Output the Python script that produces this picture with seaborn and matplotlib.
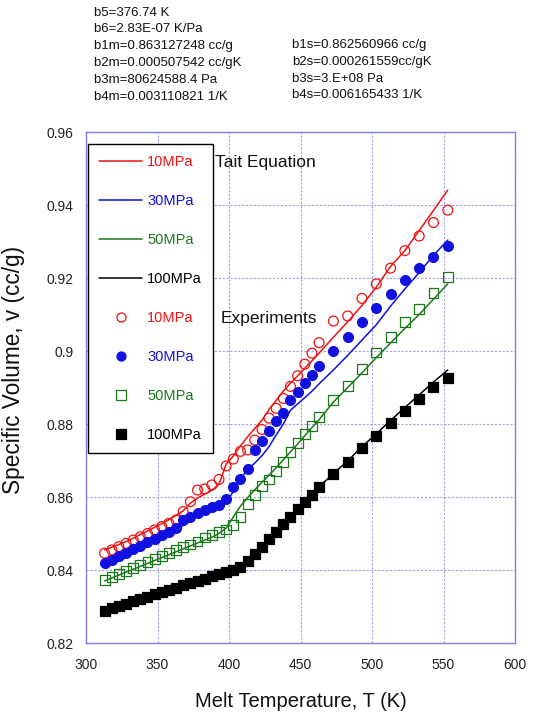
import numpy as np
import pandas as pd
import seaborn as sns
import matplotlib.pyplot as plt
from matplotlib.lines import Line2D

sns.set_style('white')
plt.rcParams['font.family'] = ['Liberation Sans', 'DejaVu Sans']

# experimental / Tait temperatures (K)
T = [313, 318, 323, 328, 333, 338, 343, 348, 353, 358, 363, 368, 373, 378, 383,
     388, 393, 398, 403, 408, 413, 418, 423, 428, 433, 438, 443, 448, 453, 458,
     463, 473, 483, 493, 503, 513, 523, 533, 543, 553]

# Tait equation curves (cc/g)
tait_10 = [.8455, .8462, .8470, .8478, .8487, .8497, .8507, .8517, .8527, .8538,
           .8550, .8562, .8583, .8597, .8608, .8618, .8635, .8690, .8712, .8740,
           .8765, .8788, .8810, .8840, .8865, .8890, .8912, .8932, .8953, .8973,
           .8994, .9038, .9080, .9125, .9175, .9232, .9275, .9330, .9385, .9441]
tait_30 = [.8405, .8415, .8425, .8435, .8445, .8455, .8465, .8475, .8487, .8498,
           .8510, .8522, .8535, .8547, .8557, .8566, .8574, .8585, .8615, .8650,
           .8675, .8693, .8713, .8738, .8770, .8800, .8838, .8855, .8872, .8890,
           .8910, .8948, .8988, .9030, .9072, .9123, .9170, .9215, .9262, .9304]
tait_50 = [.8370, .8378, .8386, .8394, .8402, .8410, .8418, .8426, .8434, .8442,
           .8450, .8458, .8466, .8474, .8482, .8490, .8500, .8515, .8545, .8575,
           .8598, .8620, .8640, .8660, .8680, .8702, .8724, .8745, .8768, .8790,
           .8812, .8860, .8900, .8940, .8982, .9022, .9062, .9100, .9142, .9184]
tait_100 = [.8289, .8295, .8302, .8308, .8314, .8321, .8327, .8333, .8340, .8346,
            .8352, .8358, .8364, .8371, .8377, .8383, .8389, .8395, .8402, .8412,
            .8428, .8447, .8466, .8486, .8506, .8527, .8547, .8567, .8588, .8607,
            .8628, .8664, .8699, .8738, .8773, .8810, .8845, .8880, .8915, .8948]

# experiments (cc/g)
exp_10 = [.8446, .8455, .8464, .8473, .8482, .8491, .8500, .8510, .8519, .8528,
          .8537, .8560, .8587, .8619, .8622, .8633, .8648, .8685, .8704, .8725,
          .8729, .8756, .8785, .8816, .8843, .8870, .8903, .8932, .8964, .8994,
          .9023, .9082, .9096, .9144, .9184, .9227, .9275, .9315, .9352, .9386]
exp_30 = [.8418, .8427, .8437, .8447, .8457, .8466, .8476, .8486, .8495, .8505,
          .8515, .8538, .8545, .8555, .8564, .8573, .8578, .8595, .8628, .8650,
          .8676, .8728, .8753, .8782, .8809, .8831, .8866, .8888, .8913, .8934,
          .8960, .9000, .9038, .9079, .9117, .9156, .9195, .9227, .9257, .9288]
exp_50 = [.8373, .8381, .8389, .8397, .8405, .8413, .8421, .8430, .8438, .8446,
          .8454, .8462, .8470, .8478, .8489, .8497, .8503, .8511, .8523, .8546,
          .8580, .8605, .8630, .8648, .8672, .8697, .8724, .8747, .8772, .8795,
          .8820, .8866, .8904, .8950, .8996, .9038, .9080, .9115, .9160, .9202]
exp_100 = [.8289, .8295, .8302, .8308, .8314, .8321, .8327, .8333, .8340, .8346,
           .8352, .8358, .8364, .8371, .8376, .8383, .8389, .8395, .8400, .8409,
           .8425, .8445, .8464, .8485, .8505, .8526, .8546, .8566, .8587, .8605,
           .8627, .8662, .8696, .8734, .8768, .8804, .8836, .8868, .8901, .8927]

labels = ['10MPa', '30MPa', '50MPa', '100MPa']
colors = ['#ee1111', '#1010e0', '#1a7a1a', 'black']
markers = ['o', 'o', 's', 's']
filled = [False, True, False, True]

params_left = ['b5=376.74 K', 'b6=2.83E-07 K/Pa', 'b1m=0.863127248 cc/g',
               'b2m=0.000507542 cc/gK', 'b3m=80624588.4 Pa', 'b4m=0.003110821 1/K']
params_right = ['b1s=0.862560966 cc/g', 'b2s=0.000261559cc/gK',
                'b3s=3.E+08 Pa', 'b4s=0.006165433 1/K']

fig = plt.figure(figsize=(5.35, 7.2), dpi=100)
ax = fig.add_axes([86 / 535, 1 - 643 / 720, 429 / 535, 511 / 720])

tait = [tait_10, tait_30, tait_50, tait_100]
exps = [exp_10, exp_30, exp_50, exp_100]
for i in range(4):
    df = pd.DataFrame({'T': T, 'v': tait[i]})
    sns.lineplot(data=df, x='T', y='v', color=colors[i], lw=1.1, ax=ax, legend=False)
for i in range(4):
    df = pd.DataFrame({'T': T, 'v': exps[i]})
    fc = colors[i] if filled[i] else 'none'
    sns.scatterplot(data=df, x='T', y='v', marker=markers[i], s=50,
                    facecolor=fc, edgecolor=colors[i], linewidth=0.9,
                    ax=ax, legend=False, zorder=3)

ax.set_xlim(300, 600)
ax.set_ylim(0.82, 0.96)
ax.set_xticks(np.arange(300, 601, 50))
ax.set_yticks([0.82, 0.84, 0.86, 0.88, 0.90, 0.92, 0.94, 0.96])
ax.set_yticklabels(['0.82', '0.84', '0.86', '0.88', '0.9', '0.92', '0.94', '0.96'])
ax.grid(True, color='#a0a0ea', lw=0.8, ls=(0, (2, 1.5)))
for s in ax.spines.values():
    s.set_color('#8080e0')
    s.set_linewidth(1.0)
ax.tick_params(direction='in', length=4, color='#5555cc', labelsize=10,
               labelcolor='#222222')
ax.tick_params(axis='x', pad=11)
ax.tick_params(axis='y', pad=9)
ax.set_xlabel('Melt Temperature, T (K)', fontsize=14.5, color='#111111', labelpad=14)
ax.set_ylabel('Specific Volume, v (cc/g)', fontsize=16.3, color='#111111')
ax.yaxis.set_label_coords(-0.142, 0.534)

handles = []
for i in range(4):
    handles.append(Line2D([], [], color=colors[i], lw=1.1))
for i in range(4):
    fc = colors[i] if filled[i] else 'none'
    handles.append(Line2D([], [], ls='none', marker=markers[i], markersize=6.5,
                          markerfacecolor=fc, markeredgecolor=colors[i],
                          markeredgewidth=0.9))
leg = ax.legend(handles, labels + labels, loc='upper left',
                bbox_to_anchor=(0.005, 0.977), borderaxespad=0, fontsize=10.5,
                labelspacing=1.72, handlelength=2.95, handletextpad=0.35,
                borderpad=0.75, fancybox=False, framealpha=1, edgecolor='black')
leg.get_frame().set_linewidth(1.0)
for txt, c in zip(leg.get_texts(), colors + colors):
    txt.set_color(c)

fig.text(215 / 535, 1 - 163 / 720, 'Tait Equation', fontsize=12.5, va='center',
         color='#111111')
fig.text(221 / 535, 1 - 318 / 720, 'Experiments', fontsize=12.5, va='center',
         color='#111111')

for k, s in enumerate(params_left):
    fig.text(94 / 535, 1 - (12.5 + 16.8 * k) / 720, s, fontsize=9.5, va='center',
             color='#111111')
for k, s in enumerate(params_right):
    fig.text(292 / 535, 1 - (45 + 16.8 * k) / 720, s, fontsize=9.5, va='center',
             color='#111111')

fig.savefig('out.png', dpi=100)
